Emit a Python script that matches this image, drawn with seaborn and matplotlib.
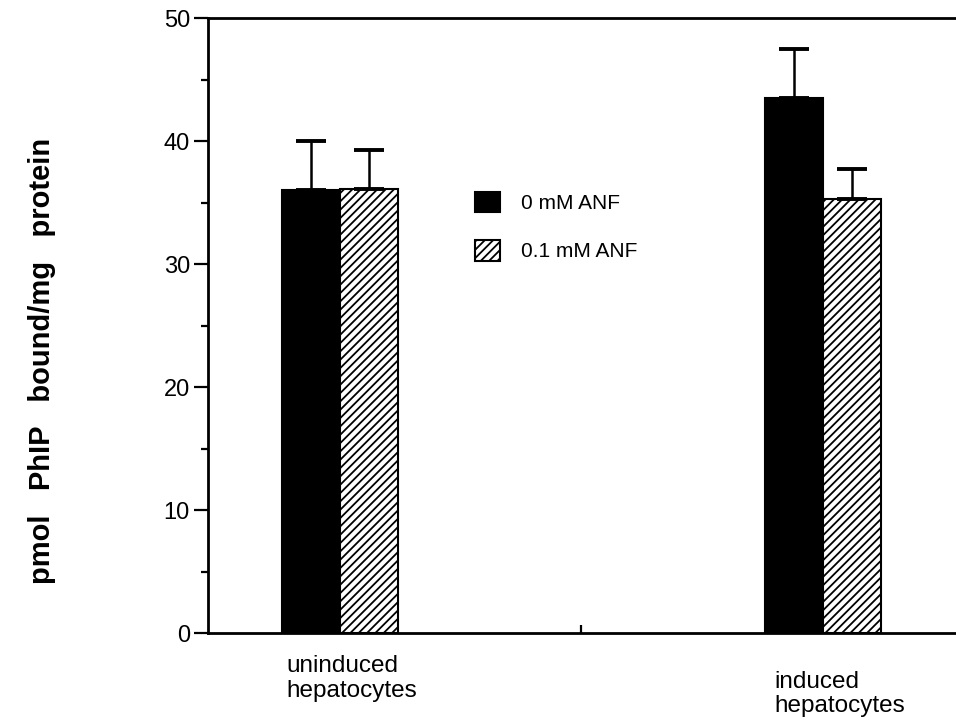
import matplotlib
matplotlib.use("Agg")
import matplotlib.pyplot as plt
import seaborn as sns
import pandas as pd
import numpy as np
from matplotlib.ticker import MultipleLocator

# ---- data ----
categories = ["uninduced\nhepatocytes", "induced\nhepatocytes"]
treatments = ["0 mM ANF", "0.1 mM ANF"]
means_0mM = [36.0, 43.5]
means_01mM = [36.1, 35.3]
err_0mM = [4.0, 4.0]
err_01mM = [3.2, 2.4]
yticks = [0, 10, 20, 30, 40, 50]

sns.set_theme(style="ticks")
plt.rcParams["font.family"] = ["Liberation Sans", "DejaVu Sans"]
plt.rcParams["hatch.linewidth"] = 1.3
plt.rcParams["hatch.color"] = "black"
for k in ["text.color", "axes.labelcolor", "xtick.color", "ytick.color",
          "xtick.labelcolor", "ytick.labelcolor"]:
    plt.rcParams[k] = "black"

df = pd.DataFrame({
    "cat": categories * 2,
    "treat": [treatments[0]] * 2 + [treatments[1]] * 2,
    "val": means_0mM + means_01mM,
})

fig = plt.figure(figsize=(9.56, 7.26), dpi=100)
ax = fig.add_axes([0.2176, 0.128, 0.7824, 0.847])

sns.barplot(data=df, x="cat", y="val", hue="treat", order=categories,
            hue_order=treatments, palette=["black", "white"], width=0.24,
            gap=0, errorbar=None, ax=ax, legend=False,
            edgecolor="black", linewidth=1.5, saturation=1)

bars = [p for p in ax.patches]
n = len(categories)
for p in bars[n:2 * n]:
    p.set_hatch("////")
    p.set_facecolor("white")

errs = err_0mM + err_01mM
vals = means_0mM + means_01mM
for p, v, e in zip(bars, vals, errs):
    xc = p.get_x() + p.get_width() / 2
    ax.errorbar([xc], [v], yerr=[[0], [e]], fmt="none", ecolor="black",
                elinewidth=1.8, capsize=11, capthick=2.8, zorder=1)

ax.set_ylim(0, 50)
ax.set_xlim(-0.273, 1.276)
ax.set_yticks(yticks)
ax.yaxis.set_minor_locator(MultipleLocator(5))
ax.tick_params(axis="y", which="major", length=10, width=1.6, labelsize=17,
               pad=3, colors="black")
ax.tick_params(axis="y", which="minor", length=5, width=1.6)
ax.set_xticks([0.5])
ax.set_xticklabels([""])
ax.tick_params(axis="x", length=6, width=1.6, direction="in")
ax.set_xlabel("")
ax.set_ylabel("")

fig.text(42 / 956, 1 - 361 / 726, "pmol   PhIP   bound/mg   protein",
         rotation=90, ha="center", va="center", fontsize=21, fontweight="bold",
         color="black")

for s in ["left", "bottom", "top"]:
    ax.spines[s].set_linewidth(2)
    ax.spines[s].set_color("black")
ax.spines["right"].set_visible(False)

# category labels placed below axis
trans = matplotlib.transforms.blended_transform_factory(ax.transData, ax.transAxes)
ax.text(-0.11, -0.036, categories[0], transform=trans, ha="left", va="top",
        fontsize=17.5, linespacing=1.15, color="black")
ax.text(0.9, -0.061, categories[1], transform=trans, ha="left", va="top",
        fontsize=17.5, linespacing=1.15, color="black")

handles = [bars[0], bars[n]]
leg = ax.legend(handles=handles, labels=treatments, loc="upper left",
                bbox_to_anchor=(0.357, 0.718), borderpad=0, borderaxespad=0,
                frameon=False, fontsize=15, handlelength=1.2, handleheight=1.15,
                labelspacing=1.3, handletextpad=1.0)
for t in leg.get_texts():
    t.set_color("black")

fig.savefig("out.png", dpi=100)
